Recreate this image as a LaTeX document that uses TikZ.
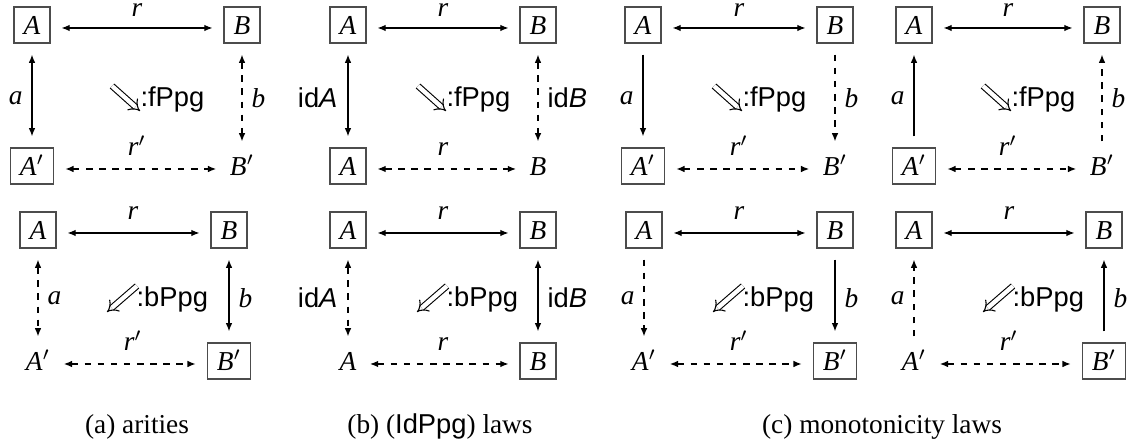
\documentclass[tikz,border=0pt]{standalone}
\usepackage{fontspec}
\setmainfont{Liberation Serif}
\setsansfont{Liberation Sans}
\usetikzlibrary{arrows.meta}
\newcommand{\prm}{\ensuremath{'}}
\tikzset{
 bx/.style={draw=black!70, line width=0.5pt, font=\itshape, text height=7.6pt, text depth=0.4pt, inner xsep=3.5pt, inner ysep=2.6pt},
 pl/.style={font=\itshape, text height=7.6pt, text depth=0.4pt, inner sep=0.8pt},
 ar/.style={line width=0.45pt, shorten <=4pt, shorten >=4pt},
 dsh/.style={dash pattern=on 2.4pt off 2.4pt},
 lb/.style={font=\itshape, inner sep=0pt},
 sl/.style={font=\sffamily, inner sep=0pt},
 dbl/.style={double, double distance=1.6pt, line width=0.4pt, -{Implies}},
 cell/.style={font=\sffamily, inner sep=0pt, anchor=west},
 captxt/.style={inner sep=0pt}
}
\begin{document}
\begin{tikzpicture}[x=0.366pt,y=-0.366pt,>={Latex[length=3pt,width=2.4pt]}]
\useasboundingbox (0,0) rectangle (1127,446);
% ---------- (a) top
\node[bx] (a1A) at (32,25) {A};
\node[bx] (a1B) at (242,25) {B};
\node[bx] (a1C) at (32,166) {A\prm};
\node[pl] (a1D) at (242,166) {B\prm};
\draw[ar,<->] ([yshift=-1.1pt]a1A.east) -- ([yshift=-1.1pt]a1B.west);
\draw[ar,<->,dsh] ([yshift=-1.1pt]a1C.east) -- ([yshift=-1.1pt]a1D.west);
\draw[ar,<->] (a1A.south) -- (a1C.north);
\draw[ar,<->,dsh] (a1B.south) -- (a1D.north);
\node[lb,anchor=base] (a1r) at (137,17) {r};
\node[lb,anchor=base] (a1rp) at (137,156) {r\prm};
\node[lb,anchor=east] (a1a) at (23,98) {a};
\node[lb,anchor=west] (a1b) at (251,98) {b};
\coordinate (a1s) at (112,86); \coordinate (a1t) at (140,111);
\draw[dbl] (a1s) -- (a1t);
\node[cell] (a1c) at (140,99) {:fPpg};
% ---------- (a) bottom
\node[bx] (a2A) at (38,230) {A};
\node[bx] (a2B) at (229,230) {B};
\node[pl] (a2C) at (38,361) {A\prm};
\node[bx] (a2D) at (229,361) {B\prm};
\draw[ar,<->] ([yshift=-1.1pt]a2A.east) -- ([yshift=-1.1pt]a2B.west);
\draw[ar,<->,dsh] ([yshift=-1.1pt]a2C.east) -- ([yshift=-1.1pt]a2D.west);
\draw[ar,<->,dsh] (a2A.south) -- (a2C.north);
\draw[ar,<->] (a2B.south) -- (a2D.north);
\node[lb,anchor=base] (a2r) at (133,220) {r};
\node[lb,anchor=base] (a2rp) at (133,351) {r\prm};
\node[lb,anchor=west] (a2a) at (47,298) {a};
\node[lb,anchor=west] (a2b) at (238,298) {b};
\coordinate (a2s) at (137,286); \coordinate (a2t) at (107,312);
\draw[dbl] (a2s) -- (a2t);
\node[cell] (a2c) at (136,299) {:bPpg};
% ---------- (b) top
\node[bx] (b1A) at (348,25) {A};
\node[bx] (b1B) at (538,25) {B};
\node[bx] (b1C) at (348,166) {A};
\node[pl] (b1D) at (538,166) {B};
\draw[ar,<->] ([yshift=-1.1pt]b1A.east) -- ([yshift=-1.1pt]b1B.west);
\draw[ar,<->,dsh] ([yshift=-1.1pt]b1C.east) -- ([yshift=-1.1pt]b1D.west);
\draw[ar,<->] (b1A.south) -- (b1C.north);
\draw[ar,<->,dsh] (b1B.south) -- (b1D.north);
\node[lb,anchor=base] (b1r) at (443,17) {r};
\node[lb,anchor=base] (b1rp) at (443,156) {r};
\node[sl,anchor=east] (b1a) at (338,98) {id\textit{A}};
\node[sl,anchor=west] (b1b) at (547,98) {id\textit{B}};
\coordinate (b1s) at (418,86); \coordinate (b1t) at (446,111);
\draw[dbl] (b1s) -- (b1t);
\node[cell] (b1c) at (446,99) {:fPpg};
% ---------- (b) bottom
\node[bx] (b2A) at (348,230) {A};
\node[bx] (b2B) at (538,230) {B};
\node[pl] (b2C) at (348,361) {A};
\node[bx] (b2D) at (538,361) {B};
\draw[ar,<->] ([yshift=-1.1pt]b2A.east) -- ([yshift=-1.1pt]b2B.west);
\draw[ar,<->,dsh] ([yshift=-1.1pt]b2C.east) -- ([yshift=-1.1pt]b2D.west);
\draw[ar,<->,dsh] (b2A.south) -- (b2C.north);
\draw[ar,<->] (b2B.south) -- (b2D.north);
\node[lb,anchor=base] (b2r) at (443,220) {r};
\node[lb,anchor=base] (b2rp) at (443,351) {r};
\node[sl,anchor=east] (b2a) at (338,298) {id\textit{A}};
\node[sl,anchor=west] (b2b) at (547,298) {id\textit{B}};
\coordinate (b2s) at (447,286); \coordinate (b2t) at (417,312);
\draw[dbl] (b2s) -- (b2t);
\node[cell] (b2c) at (446,299) {:bPpg};
% ---------- (c) top left
\node[bx] (c1A) at (643,25) {A};
\node[bx] (c1B) at (835,25) {B};
\node[bx] (c1C) at (643,166) {A\prm};
\node[pl] (c1D) at (835,166) {B\prm};
\draw[ar,<->] ([yshift=-1.1pt]c1A.east) -- ([yshift=-1.1pt]c1B.west);
\draw[ar,<->,dsh] ([yshift=-1.1pt]c1C.east) -- ([yshift=-1.1pt]c1D.west);
\draw[ar,->] (c1A.south) -- (c1C.north);
\draw[ar,->,dsh] (c1B.south) -- (c1D.north);
\node[lb,anchor=base] (c1r) at (739,17) {r};
\node[lb,anchor=base] (c1rp) at (739,156) {r\prm};
\node[lb,anchor=east] (c1a) at (634,98) {a};
\node[lb,anchor=west] (c1b) at (844,98) {b};
\coordinate (c1s) at (714,86); \coordinate (c1t) at (742,111);
\draw[dbl] (c1s) -- (c1t);
\node[cell] (c1c) at (742,99) {:fPpg};
% ---------- (c) top right
\node[bx] (c2A) at (914,25) {A};
\node[bx] (c2B) at (1102,25) {B};
\node[bx] (c2C) at (914,166) {A\prm};
\node[pl] (c2D) at (1102,166) {B\prm};
\draw[ar,<->] ([yshift=-1.1pt]c2A.east) -- ([yshift=-1.1pt]c2B.west);
\draw[ar,<->,dsh] ([yshift=-1.1pt]c2C.east) -- ([yshift=-1.1pt]c2D.west);
\draw[ar,->] (c2C.north) -- (c2A.south);
\draw[ar,->,dsh] (c2D.north) -- (c2B.south);
\node[lb,anchor=base] (c2r) at (1008,17) {r};
\node[lb,anchor=base] (c2rp) at (1008,156) {r\prm};
\node[lb,anchor=east] (c2a) at (905,98) {a};
\node[lb,anchor=west] (c2b) at (1111,98) {b};
\coordinate (c2s) at (983,86); \coordinate (c2t) at (1011,111);
\draw[dbl] (c2s) -- (c2t);
\node[cell] (c2c) at (1011,99) {:fPpg};
% ---------- (c) bottom left
\node[bx] (c3A) at (644,230) {A};
\node[bx] (c3B) at (835,230) {B};
\node[pl] (c3C) at (644,361) {A\prm};
\node[bx] (c3D) at (835,361) {B\prm};
\draw[ar,<->] ([yshift=-1.1pt]c3A.east) -- ([yshift=-1.1pt]c3B.west);
\draw[ar,<->,dsh] ([yshift=-1.1pt]c3C.east) -- ([yshift=-1.1pt]c3D.west);
\draw[ar,->,dsh] (c3A.south) -- (c3C.north);
\draw[ar,->] (c3B.south) -- (c3D.north);
\node[lb,anchor=base] (c3r) at (739,220) {r};
\node[lb,anchor=base] (c3rp) at (739,351) {r\prm};
\node[lb,anchor=east] (c3a) at (635,298) {a};
\node[lb,anchor=west] (c3b) at (844,298) {b};
\coordinate (c3s) at (743,286); \coordinate (c3t) at (713,312);
\draw[dbl] (c3s) -- (c3t);
\node[cell] (c3c) at (742,299) {:bPpg};
% ---------- (c) bottom right
\node[bx] (c4A) at (914,230) {A};
\node[bx] (c4B) at (1104,230) {B};
\node[pl] (c4C) at (914,361) {A\prm};
\node[bx] (c4D) at (1104,361) {B\prm};
\draw[ar,<->] ([yshift=-1.1pt]c4A.east) -- ([yshift=-1.1pt]c4B.west);
\draw[ar,<->,dsh] ([yshift=-1.1pt]c4C.east) -- ([yshift=-1.1pt]c4D.west);
\draw[ar,->,dsh] (c4C.north) -- (c4A.south);
\draw[ar,->] (c4D.north) -- (c4B.south);
\node[lb,anchor=base] (c4r) at (1009,220) {r};
\node[lb,anchor=base] (c4rp) at (1009,351) {r\prm};
\node[lb,anchor=east] (c4a) at (905,298) {a};
\node[lb,anchor=west] (c4b) at (1113,298) {b};
\coordinate (c4s) at (1013,286); \coordinate (c4t) at (983,312);
\draw[dbl] (c4s) -- (c4t);
\node[cell] (c4c) at (1012,299) {:bPpg};
% ---------- captions
\node[captxt] (capa) at (137,427) {(a) arities};
\node[captxt] (capb) at (440,427) {(b) (\textsf{IdPpg}) laws};
\node[captxt] (capc) at (882,427) {(c) monotonicity laws};
\end{tikzpicture}
\end{document}
